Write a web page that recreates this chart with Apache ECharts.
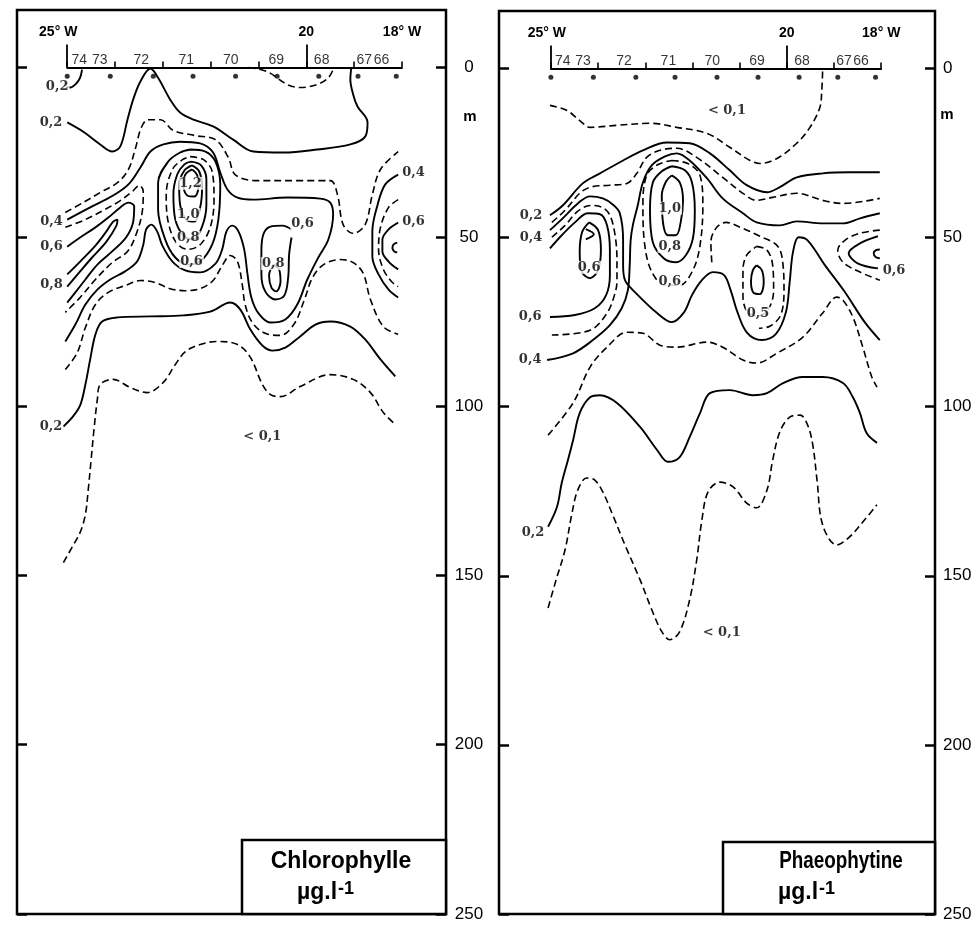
<!DOCTYPE html>
<html><head><meta charset="utf-8">
<script src="https://cdn.jsdelivr.net/npm/echarts@6/dist/echarts.min.js"></script>
<style>html,body{margin:0;padding:0;background:#fff}#c{width:975px;height:925px}</style>
</head><body><div id="c"></div>
<script>
// ---------- data (longitude °W, depth m) ----------
const stationNames = ['74','73','72','71','70','69','68','67','66'];
const stationLon = [25.0, 24.1, 23.2, 22.37, 21.48, 20.61, 19.74, 18.92, 18.12];
const stationLabelLon = [24.75, 24.32, 23.45, 22.51, 21.58, 20.63, 19.68, 18.79, 18.43];
const panelTitles = ['Chlorophylle', 'Phaeophytine'];
const unitText = 'µg.l', unitExp = '-1';
const depthMax = 250, depthStep = 50;
const lonAxisStart = 25, lonAxisEnd = 18, lonMajor = 20;

// Chlorophylle contours
const chlTop02 = [[25.00,16.2],[24.67,18.9],[24.31,22.7],[24.06,24.8],[23.89,23.3],[23.74,15.4],[23.62,9.4],[23.47,4.1],[23.26,0.3],[23.10,3.0],[22.85,9.4],[22.64,13.3],[22.36,15.4],[21.95,17.4],[21.53,21.3],[21.11,24.8],[20.48,25.1],[19.77,24.2],[19.08,22.7],[18.77,20.4],[18.72,16.2],[18.93,11.5],[19.02,8.0],[19.08,3.5],[19.06,0]];
const chlTopDash = [[21.21,0],[20.82,1.2],[20.40,5.0],[20.13,5.9],[19.77,5.0],[19.54,3.0],[19.44,0.6]];
const chlHook = [[24.69,0.6],[24.73,3.0],[24.81,4.7],[24.94,5.9],[25.02,5.6]];
const chlDash1 = [[25.04,42.8],[24.67,39.9],[24.31,36.9],[23.95,34.0],[23.72,30.1],[23.58,24.2],[23.45,17.7],[23.31,15.4],[23.05,15.4],[22.78,18.6],[22.32,20.1],[21.90,21.3],[21.63,26.6],[21.49,31.6],[21.07,33.4],[20.13,33.4],[19.50,33.4],[19.35,37.5],[19.23,46.4],[19.02,49.0],[18.77,46.4],[18.62,37.5],[18.45,30.1],[18.08,24.8]];
const chlS04 = [[25.00,44.9],[24.52,41.3],[24.04,37.8],[23.72,34.5],[23.47,29.5],[23.26,24.8],[22.99,22.7],[22.64,21.9],[22.22,22.4],[21.95,25.1],[21.80,31.0],[21.65,36.0],[21.44,38.4],[21.11,39.0],[20.40,38.4],[19.71,38.7],[19.50,39.9],[19.44,43.4],[19.54,50.8],[19.75,56.1],[19.98,62.6],[20.19,70.0],[20.44,74.4],[20.75,75.3],[21.00,72.6],[21.15,67.9],[21.23,61.1],[21.30,53.7],[21.42,48.4],[21.55,46.7],[21.67,48.4],[21.76,53.7],[21.90,57.9],[22.22,60.5],[22.53,59.9],[22.80,57.3],[23.01,52.6],[23.12,48.4],[23.24,46.4],[23.35,47.8],[23.41,52.3],[23.54,57.3],[23.79,60.2],[24.10,62.6],[24.37,65.6],[24.62,70.0],[24.83,75.9],[25.04,80.9]];
const chlD2 = [[25.04,47.2],[24.62,44.9],[24.21,41.9],[23.89,39.3],[23.64,36.6],[23.49,34.8],[23.41,36.6],[23.43,42.5],[23.56,49.3],[23.74,54.3],[24.06,57.6],[24.41,62.6],[24.73,67.9],[25.04,72.3]];
const chlS06 = [[25.00,52.9],[24.73,50.2],[24.41,47.2],[24.14,44.3],[23.89,41.3],[23.72,39.9],[23.60,41.0],[23.62,45.5],[23.77,50.2],[24.06,54.3],[24.37,58.2],[24.62,62.6],[24.83,66.4],[25.00,69.4]];
const chlS08 = [[25.00,61.1],[24.73,57.3],[24.41,52.6],[24.18,48.4],[24.04,45.5],[23.95,44.9],[23.97,46.7],[24.18,51.4],[24.48,56.1],[24.73,60.2],[25.00,64.7]];
const chlD3 = [[25.04,89.2],[24.79,84.2],[24.62,76.8],[24.41,70.0],[24.14,66.4],[23.79,64.4],[23.47,62.9],[23.16,63.5],[22.85,65.3],[22.53,65.9],[22.22,65.3],[21.95,62.9],[21.76,58.5],[21.59,55.5],[21.44,57.3],[21.34,64.1],[21.28,70.0],[21.13,75.3],[20.86,78.5],[20.54,79.1],[20.25,75.6],[20.04,68.5],[19.87,62.0],[19.64,58.2],[19.29,56.7],[19.02,57.6],[18.81,60.8],[18.66,68.5],[18.39,76.5],[18.08,78.8]];
const chlBot02 = [[25.08,106.0],[24.90,103.4],[24.73,99.8],[24.62,93.6],[24.52,86.2],[24.41,78.8],[24.27,75.0],[23.95,73.8],[23.26,73.5],[22.57,73.2],[22.01,72.1],[21.59,69.4],[21.38,71.5],[21.17,77.4],[20.92,82.1],[20.71,83.6],[20.44,82.7],[20.13,79.4],[19.81,75.9],[19.50,75.0],[19.08,76.5],[18.77,80.3],[18.45,86.2],[18.14,91.2]];
const chlBot01 = [[25.08,146.2],[24.90,141.7],[24.73,137.3],[24.62,132.0],[24.56,124.6],[24.50,115.8],[24.44,106.9],[24.37,98.0],[24.31,93.6],[24.04,92.1],[23.68,94.5],[23.33,96.0],[22.99,93.0],[22.74,87.7],[22.53,83.9],[22.22,81.8],[21.86,80.9],[21.44,81.8],[21.17,85.6],[20.92,93.6],[20.75,96.6],[20.54,97.2],[20.13,94.2],[19.50,90.7],[19.02,92.1],[18.66,96.0],[18.39,101.9],[18.14,105.4]];
const chlPa = [[22.43,24.2],[22.11,24.8],[21.90,27.8],[21.80,34.5],[21.84,44.9],[21.97,52.3],[22.22,57.3],[22.47,58.2],[22.74,56.1],[22.95,50.8],[23.10,41.9],[23.10,34.0],[22.89,27.8],[22.64,25.1],[22.43,24.2]];
const chlPb = [[22.43,26.3],[22.15,27.2],[21.97,30.7],[21.93,39.0],[22.01,47.2],[22.22,52.3],[22.47,53.7],[22.72,51.7],[22.89,45.5],[22.93,37.5],[22.80,30.1],[22.59,27.2],[22.43,26.3]];
const chlPc = [[22.41,27.8],[22.20,28.9],[22.09,33.1],[22.09,40.5],[22.18,47.0],[22.36,50.8],[22.57,49.6],[22.74,44.9],[22.78,37.5],[22.70,31.6],[22.55,28.6],[22.41,27.8]];
const chlPd = [[22.39,28.9],[22.24,30.7],[22.18,35.4],[22.22,41.3],[22.34,45.5],[22.51,44.9],[22.64,40.5],[22.66,34.5],[22.55,30.4],[22.39,28.9]];
const chlPe = [[22.39,30.1],[22.28,31.9],[22.26,35.4],[22.34,38.1],[22.49,37.8],[22.57,34.8],[22.53,31.6],[22.39,30.1]];
const chl69a = [[20.31,47.8],[20.50,46.7],[20.75,47.0],[20.90,49.3],[20.94,54.3],[20.94,61.1],[20.86,66.1],[20.65,68.5],[20.46,67.3],[20.38,62.0],[20.36,55.2],[20.31,50.2]];
const chl69b = [[20.69,58.2],[20.57,59.6],[20.54,63.2],[20.63,66.1],[20.73,65.0],[20.78,61.4],[20.69,58.2]];
const chlR04 = [[18.08,31.6],[18.35,34.5],[18.51,40.5],[18.62,48.4],[18.62,55.8],[18.49,61.1],[18.28,65.6],[18.08,67.9]];
const chlRd = [[18.08,39.0],[18.28,41.3],[18.45,47.2],[18.49,53.7],[18.39,59.6],[18.22,63.2],[18.08,64.7]];
const chlR06 = [[18.08,45.8],[18.28,47.8],[18.41,50.8],[18.41,54.3],[18.28,57.3],[18.08,59.6]];
const chlRc = [[18.10,51.7],[18.18,52.3],[18.20,53.4],[18.16,54.3],[18.10,54.6]];
const chlLabels = [[25.34,16.2,'0,2'],[25.21,5.6,'0,2'],[25.33,45.5,'0,4'],[25.33,52.9,'0,6'],[25.33,64.1,'0,8'],
  [22.42,34.2,'1,2'],[22.47,43.4,'1,0'],[22.47,50.2,'0,8'],[22.40,57.3,'0,6'],[20.08,46.1,'0,6'],[20.69,57.9,'0,8'],
  [17.76,31.0,'0,4'],[17.76,45.5,'0,6'],[25.34,106.0,'0,2'],[20.92,109.0,'< 0,1']];

// Phaeophytine contours
const phTop01 = [[25.02,10.9],[24.66,12.4],[24.39,15.4],[24.17,17.4],[23.60,16.8],[22.90,16.2],[22.33,17.4],[21.69,19.2],[21.21,23.3],[20.78,27.2],[20.57,28.1],[20.21,26.6],[19.79,22.1],[19.51,17.4],[19.30,11.5],[19.26,6.5],[19.24,0]];
const phTop02 = [[25.02,43.4],[24.75,40.5],[24.32,33.9],[23.96,31.0],[23.47,27.2],[23.05,24.2],[22.54,21.9],[22.06,22.1],[21.63,25.1],[21.21,30.1],[20.85,34.5],[20.42,36.6],[20.15,35.1],[19.79,32.2],[19.24,31.0],[18.67,30.7],[18.03,30.7]];
const phDash03 = [[24.98,45.5],[24.70,41.9],[24.39,36.9],[24.17,35.1],[23.75,34.5],[23.39,34.0],[23.18,31.0],[22.97,26.3],[22.69,24.2],[22.33,23.6],[21.91,26.3],[21.36,32.2],[20.93,36.9],[20.64,39.0],[20.30,38.1],[19.79,36.9],[19.24,39.0],[18.81,39.9],[18.03,38.4]];
const phS04a = [[25.02,47.8],[24.75,44.3],[24.43,39.9],[24.17,37.8],[23.90,38.4],[23.69,40.2],[23.54,42.8],[23.47,50.8],[23.47,58.2],[23.43,62.6],[23.22,66.1],[22.75,72.3],[22.44,75.0],[22.18,72.1],[22.01,67.0],[21.80,62.6],[21.57,60.2],[21.33,61.1],[21.19,65.6],[21.06,71.5],[20.85,78.0],[20.53,80.3],[20.23,78.5],[20.02,72.1],[19.94,63.2],[19.87,54.3],[19.75,49.9],[19.56,50.8],[19.19,58.2],[18.77,66.1],[18.35,75.0],[18.03,80.3]];
const phS04b = [[25.08,86.2],[24.53,84.2],[24.11,80.3],[23.75,75.9],[23.50,70.9],[23.37,65.6],[23.33,58.2],[23.31,50.8],[23.26,46.1],[23.16,40.5],[23.05,33.7],[22.86,28.6],[22.58,26.0],[22.33,25.1],[22.06,27.2],[21.69,32.5],[21.36,38.4],[20.93,42.8],[20.64,45.5],[20.15,46.4],[19.79,45.2],[19.24,45.8],[18.81,45.8],[18.45,44.3],[18.03,42.8]];
const phD05 = [[24.98,49.9],[24.70,46.4],[24.43,42.2],[24.17,40.5],[23.92,41.0],[23.75,43.4],[23.64,49.3],[23.60,56.7],[23.60,62.6],[23.64,66.4],[23.81,72.3],[24.17,77.4],[24.98,78.8]];
const phS06 = [[25.02,53.2],[24.77,49.3],[24.49,45.5],[24.22,42.8],[23.96,43.1],[23.81,46.4],[23.75,53.7],[23.75,61.1],[23.83,67.0],[24.07,70.9],[24.49,72.9],[25.02,73.5]];
const phL06 = [[24.19,45.5],[24.00,47.8],[23.94,53.7],[24.00,59.6],[24.17,62.0],[24.34,60.2],[24.39,54.3],[24.34,48.4],[24.19,45.5]];
const phChevron = [[24.26,47.5],[24.09,49.0],[24.26,50.5]];
const phM10 = [[22.44,31.6],[22.27,33.7],[22.20,39.0],[22.25,45.5],[22.35,49.3],[22.52,49.3],[22.63,44.9],[22.65,37.5],[22.56,33.4],[22.44,31.6]];
const phM08 = [[22.44,28.9],[22.16,30.1],[22.01,33.7],[21.95,41.9],[21.99,50.2],[22.14,55.2],[22.35,57.3],[22.61,56.1],[22.84,51.4],[22.90,41.9],[22.84,33.7],[22.65,30.4],[22.44,28.9]];
const phM07 = [[22.44,27.2],[22.10,28.1],[21.84,31.6],[21.78,40.5],[21.84,52.3],[21.99,59.6],[22.27,64.1],[22.58,64.1],[22.86,60.2],[23.01,52.3],[23.05,40.5],[22.97,31.6],[22.73,28.4],[22.44,27.2]];
const ph69a = [[20.64,58.2],[20.53,59.6],[20.49,63.2],[20.57,66.7],[20.70,66.4],[20.76,62.9],[20.72,59.6],[20.64,58.2]];
const ph69b = [[20.64,52.6],[20.42,53.7],[20.30,58.2],[20.28,65.6],[20.38,70.9],[20.59,73.2],[20.83,72.1],[20.93,67.3],[20.93,59.6],[20.85,55.2],[20.64,52.6]];
const phDmid = [[21.59,57.3],[21.61,51.4],[21.50,47.2],[21.29,45.5],[20.95,47.2],[20.57,49.6],[20.19,52.6],[20.08,58.2],[20.06,65.6],[20.13,72.9],[20.36,76.2],[20.59,76.8]];
const phBot02 = [[25.06,135.5],[24.87,129.6],[24.77,122.5],[24.64,115.8],[24.53,109.9],[24.39,101.9],[24.17,97.2],[23.96,96.6],[23.60,98.9],[23.11,106.0],[22.75,112.8],[22.52,116.3],[22.27,114.9],[22.06,109.0],[21.84,101.9],[21.63,96.0],[21.21,95.1],[20.72,96.6],[20.42,96.0],[20.08,93.0],[19.66,91.2],[19.24,91.2],[18.81,93.0],[18.60,97.2],[18.45,101.9],[18.31,107.8],[18.09,110.7]];
const phBot03 = [[25.06,108.4],[24.53,98.9],[24.17,88.3],[23.81,82.4],[23.39,78.0],[23.05,78.3],[22.69,81.8],[22.33,82.4],[21.69,80.9],[21.36,82.4],[20.93,86.2],[20.64,87.1],[20.21,84.2],[19.66,79.4],[19.24,72.3],[18.94,67.6],[18.81,68.5],[18.60,73.5],[18.39,82.4],[18.20,91.2],[18.09,94.2]];
const phBot01 = [[25.06,159.5],[24.89,151.2],[24.70,142.3],[24.56,132.0],[24.43,124.6],[24.24,121.1],[24.07,121.7],[23.90,125.2],[23.69,132.0],[23.43,140.9],[23.11,151.2],[22.86,160.1],[22.65,166.5],[22.48,168.9],[22.27,166.5],[22.06,157.1],[21.91,145.3],[21.80,133.5],[21.67,125.2],[21.42,122.3],[21.14,123.7],[20.85,128.5],[20.64,129.9],[20.42,124.6],[20.30,115.8],[20.15,107.5],[19.94,103.1],[19.72,102.5],[19.56,105.4],[19.45,111.3],[19.36,121.7],[19.24,135.0],[18.94,140.9],[18.67,138.5],[18.39,134.1],[18.09,129.0]];
const phRd = [[18.03,47.8],[18.45,48.7],[18.77,50.8],[18.92,53.7],[18.81,57.3],[18.45,60.2],[18.03,62.6]];
const phR06 = [[18.07,49.6],[18.45,51.7],[18.69,54.6],[18.50,57.6],[18.07,59.1]];
const phRc = [[18.03,53.5],[18.11,53.7],[18.16,54.6],[18.11,55.8],[18.03,56.1]];
const phLabels = [[21.27,12.4,'< 0,1'],[25.42,43.4,'0,2'],[25.42,49.9,'0,4'],[24.19,58.8,'0,6'],[22.48,41.3,'1,0'],
  [22.48,52.6,'0,8'],[22.48,62.9,'0,6'],[20.61,72.4,'0,5'],[17.73,59.9,'0,6'],[25.44,73.5,'0,6'],[25.44,86.2,'0,4'],
  [25.38,137.3,'0,2'],[21.38,166.8,'< 0,1']];

// line tables: [data, dashed]
const chlLines = [[chlTop02,0],[chlTopDash,1],[chlHook,0],[chlDash1,1],[chlS04,0],[chlD2,1],[chlS06,0],[chlS08,0],
  [chlD3,1],[chlBot02,0],[chlBot01,1],[chlPa,0],[chlPb,1],[chlPc,0],[chlPd,0],[chlPe,0],[chl69a,0],[chl69b,0],
  [chlR04,0],[chlRd,1],[chlR06,0],[chlRc,0]];
const phLines = [[phTop01,1],[phTop02,0],[phDash03,1],[phS04a,0],[phS04b,0],[phD05,1],[phS06,0],[phL06,0],[phChevron,0],
  [phM10,0],[phM08,0],[phM07,1],[ph69a,0],[ph69b,1],[phDmid,1],[phBot02,0],[phBot03,1],[phBot01,1],[phRd,1],[phR06,0],[phRc,0]];

// ---------- layout ----------
const depthTop = -17;
const layout = [
  {left:17, top:10, width:429, height:904, lonMin:17.08, lonMax:26.05, shift25:18, tx:341, ty:862, tScale:1,
   ux:297, uy:893, ex:338, ey:889, box:[242,840,204,74], mx:470, my:117, lAlign:'center', lMargin:23},
  {left:499, top:11, width:436, height:903, lonMin:16.86, lonMax:26.10, shift25:8, tx:841, ty:862, tScale:0.82,
   ux:778, uy:893, ex:819, ey:889, box:[723,842,212,72], mx:947, my:115, lAlign:'left', lMargin:8}
];
const panelsData = [{lines: chlLines, labels: chlLabels}, {lines: phLines, labels: phLabels}];

function lonPx(L, lon){ return L.left + (L.lonMax - lon) / (L.lonMax - L.lonMin) * L.width; }
function depthPx(L, d){ return L.top + (d - depthTop) / (depthMax - depthTop) * L.height; }

const grid = [], xAxis = [], yAxis = [], series = [], graphic = [];
const black = '#000';
layout.forEach((L, p) => {
  const y0 = depthPx(L, 0), y250 = depthPx(L, depthMax);
  const xa25 = lonPx(L, lonAxisStart), xa18 = lonPx(L, lonAxisEnd), xa20 = lonPx(L, lonMajor);
  const g = 4 * p;
  grid.push({left:L.left, top:L.top, width:L.width, height:L.height, show:true, borderColor:black, borderWidth:2.5, containLabel:false, outerBoundsMode:'none'});
  grid.push({left:L.left, top:y0, width:L.width, height:y250 - y0, show:false, containLabel:false, outerBoundsMode:'none'});
  grid.push({left:xa25, top:y0, width:xa18 - xa25, height:1, show:false, containLabel:false, outerBoundsMode:'none'});
  grid.push({left:xa25, top:y0, width:xa20 - xa25, height:1, show:false, containLabel:false, outerBoundsMode:'none'});
  // x axes
  xAxis.push({gridIndex:g, type:'value', min:L.lonMin, max:L.lonMax, inverse:true, show:false, axisLine:{onZero:false}});
  xAxis.push({gridIndex:g+1, type:'value', min:0, max:1, show:false, axisLine:{onZero:false}});
  xAxis.push({gridIndex:g+2, type:'value', min:lonAxisEnd, max:lonAxisStart, interval:1, inverse:true, position:'top',
    axisLine:{show:true, onZero:false, lineStyle:{color:black, width:1.8}},
    axisTick:{show:true, inside:false, length:6, lineStyle:{color:black, width:1.6}},
    axisLabel:{show:false}, splitLine:{show:false}});
  xAxis.push({gridIndex:g+2, type:'value', min:lonAxisEnd, max:lonAxisStart, interval:lonAxisStart - lonAxisEnd, inverse:true, position:'top',
    axisLine:{show:false, onZero:false}, axisTick:{show:false}, splitLine:{show:false},
    axisLabel:{show:true, margin:28, color:black, fontFamily:'Liberation Sans, Arial, sans-serif', fontWeight:'bold', fontSize:14,
      formatter: v => (v === lonAxisEnd ? lonAxisEnd + '° W' : '')}});
  xAxis.push({gridIndex:g+3, type:'value', min:lonMajor, max:lonAxisStart, interval:lonAxisStart - lonMajor, inverse:true, position:'top',
    axisLine:{show:false, onZero:false}, axisTick:{show:true, inside:false, length:23, lineStyle:{color:black, width:1.8}}, splitLine:{show:false},
    axisLabel:{show:true, margin:28, color:black, fontFamily:'Liberation Sans, Arial, sans-serif', fontWeight:'bold', fontSize:14,
      formatter: v => (v === lonAxisStart ? '{s|' + lonAxisStart + '° W}' : String(v)),
      rich:{s:{fontFamily:'Liberation Sans, Arial, sans-serif', fontWeight:'bold', fontSize:14, color:black, padding:[0, L.shift25, 0, 0]}}}});
  // y axes
  yAxis.push({gridIndex:g, type:'value', min:depthTop, max:depthMax, inverse:true, show:false, axisLine:{onZero:false}});
  yAxis.push({gridIndex:g+1, type:'value', min:0, max:depthMax, interval:depthStep, inverse:true, position:'right',
    axisLine:{show:false, onZero:false}, splitLine:{show:false},
    axisTick:{show:true, inside:true, length:10, lineStyle:{color:black, width:2.5}},
    axisLabel:{show:true, margin:L.lMargin, align:L.lAlign, color:black, fontFamily:'Liberation Sans, Arial, sans-serif', fontSize:17}});
  yAxis.push({gridIndex:g+1, type:'value', min:0, max:depthMax, interval:depthStep, inverse:true, position:'left',
    axisLine:{show:false, onZero:false}, splitLine:{show:false},
    axisTick:{show:true, inside:true, length:10, lineStyle:{color:black, width:2.5}}, axisLabel:{show:false}});
  yAxis.push({gridIndex:g+2, type:'value', min:0, max:1, show:false, axisLine:{onZero:false}});
  yAxis.push({gridIndex:g+3, type:'value', min:0, max:1, show:false, axisLine:{onZero:false}});

  const ax = 5 * p;
  const pd = panelsData[p];
  pd.lines.forEach(([data, dashed]) => series.push({
    type:'line', xAxisIndex:ax, yAxisIndex:ax, data, smooth:0.35, symbol:'none', silent:true, animation:false, z:2,
    lineStyle:{color:black, width: dashed ? 1.6 : 1.9, type: dashed ? [7,4] : 'solid'}
  }));
  series.push({type:'scatter', xAxisIndex:ax, yAxisIndex:ax, symbolSize:1, itemStyle:{color:'rgba(0,0,0,0)'}, silent:true, animation:false, z:6,
    data: pd.labels.map(l => ({value:[l[0], l[1]], name:l[2]})),
    label:{show:true, position:'inside', formatter:'{b}', color:black, fontFamily:'DejaVu Serif, Liberation Serif, serif', fontWeight:'bold', fontSize:13,
      backgroundColor:'#fff', padding:[0,1]}});
  series.push({type:'scatter', xAxisIndex:ax, yAxisIndex:ax, symbolSize:5, itemStyle:{color:black}, silent:true, animation:false, z:4,
    data: stationLon.map(v => [v, 2.6])});
  series.push({type:'scatter', xAxisIndex:ax, yAxisIndex:ax, symbolSize:1, itemStyle:{color:'rgba(0,0,0,0)'}, silent:true, animation:false, z:4,
    data: stationLabelLon.map((v, i) => ({value:[v, -2.3], name:stationNames[i]})),
    label:{show:true, position:'inside', formatter:'{b}', color:black, fontFamily:'Liberation Sans, Arial, sans-serif', fontSize:14}});

  // legend box & unit marks
  const b = L.box;
  graphic.push({type:'rect', z:50, shape:{x:b[0], y:b[1], width:b[2], height:b[3]}, style:{fill:'#fff', stroke:black, lineWidth:2.5}});
  graphic.push({type:'text', z:51, x:L.tx, y:L.ty, scaleX:L.tScale, style:{text:panelTitles[p], x:0, y:0, fill:black,
    font:'bold 23px "Liberation Sans", Arial, sans-serif', textAlign:'center', textVerticalAlign:'middle'}});
  graphic.push({type:'text', z:51, style:{text:unitText, x:L.ux, y:L.uy, fill:black,
    font:'bold 23px "Liberation Sans", Arial, sans-serif', textAlign:'left', textVerticalAlign:'middle'}});
  graphic.push({type:'text', z:51, style:{text:unitExp, x:L.ex, y:L.ey, fill:black,
    font:'bold 18px "Liberation Sans", Arial, sans-serif', textAlign:'left', textVerticalAlign:'middle'}});
  graphic.push({type:'text', z:51, style:{text:'m', x:L.mx, y:L.my, fill:black,
    font:'bold 15px "Liberation Sans", Arial, sans-serif', textAlign:'center', textVerticalAlign:'middle'}});
});

const chart = echarts.init(document.getElementById('c'), null, {renderer:'canvas'});
chart.setOption({backgroundColor:'#fff', animation:false, grid, xAxis, yAxis, series, graphic});
</script></body></html>
